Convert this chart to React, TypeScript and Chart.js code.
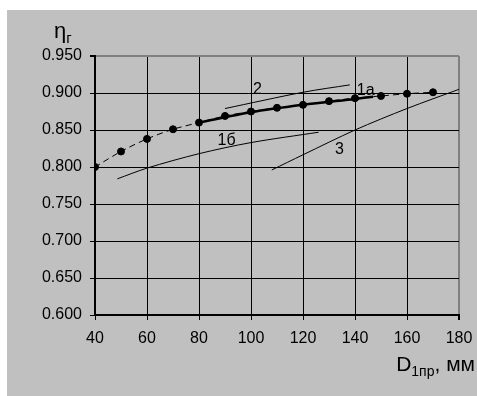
import React, { useEffect, useRef } from "react";
import { Chart, registerables } from "chart.js";

Chart.register(...registerables);

// Main curve (dashed with markers)
const mainX = [40, 50, 60, 70, 80, 90, 100, 110, 120, 130, 140, 150, 160, 170];
const mainY = [0.800, 0.821, 0.838, 0.851, 0.860, 0.869, 0.875, 0.880, 0.884, 0.889, 0.893, 0.896, 0.899, 0.901];

// Curve 1а (thick solid)
const c1aX = [80, 100, 120, 140, 147];
const c1aY = [0.860, 0.874, 0.884, 0.892, 0.895];

// Curve 2
const c2X = [90, 120, 138];
const c2Y = [0.879, 0.901, 0.911];

// Curve 1б
const c1bX = [48.6, 60, 80, 100, 126];
const c1bY = [0.784, 0.7985, 0.818, 0.833, 0.847];

// Curve 3
const c3X = [108, 120, 140, 160, 180];
const c3Y = [0.796, 0.8165, 0.850, 0.879, 0.905];

// Curve labels
const labelText = ["1а", "2", "1б", "3"];
const labelX = [144.1, 102.5, 90.6, 134.0];
const labelY = [0.9037, 0.9046, 0.836, 0.8233];

const xTicksMin = 40;
const xTicksMax = 180;
const xStep = 20;
const yMin = 0.6;
const yMax = 0.95;
const yStep = 0.05;

const FONT = "'Liberation Sans', Arial, sans-serif";

const pts = (xs: number[], ys: number[]) => xs.map((x, i) => ({ x, y: ys[i] }));

const overlayPlugin = {
  id: "overlay",
  afterDraw(chart: any) {
    const ctx = chart.ctx;
    const xs = chart.scales.x;
    const ys = chart.scales.y;
    const ca = chart.chartArea;
    ctx.save();
    ctx.fillStyle = "#000";
    // curve labels
    ctx.font = `16px ${FONT}`;
    ctx.textAlign = "center";
    ctx.textBaseline = "middle";
    labelText.forEach((t, i) => {
      ctx.fillText(t, xs.getPixelForValue(labelX[i]), ys.getPixelForValue(labelY[i]));
    });
    // y axis title: ηг
    ctx.textAlign = "left";
    ctx.textBaseline = "alphabetic";
    ctx.font = `22px ${FONT}`;
    const etaX = ca.left - 41;
    const etaY = ca.top - 18;
    ctx.fillText("η", etaX, etaY);
    const ew = ctx.measureText("η").width;
    ctx.font = `15px ${FONT}`;
    ctx.fillText("г", etaX + ew, etaY + 5);
    // x axis title: D1пр, мм (right aligned)
    const big = `21px ${FONT}`;
    const small = `14px ${FONT}`;
    const parts: [string, string, number][] = [
      ["D", big, 0],
      ["1пр", small, 5],
      [", мм", big, 0],
    ];
    let total = 0;
    parts.forEach(([t, f]) => {
      ctx.font = f;
      total += ctx.measureText(t).width;
    });
    let px = chart.width - 2 - total;
    const base = ca.bottom + 56;
    parts.forEach(([t, f, dy]) => {
      ctx.font = f;
      ctx.fillText(t, px, base + dy);
      px += ctx.measureText(t).width;
    });
    ctx.restore();
  },
};

const bgPlugin = {
  id: "bg",
  beforeDraw(chart: any) {
    const ctx = chart.ctx;
    ctx.save();
    ctx.fillStyle = "#c0c0c0";
    ctx.fillRect(0, 0, chart.width, chart.height);
    ctx.restore();
  },
};

export default function App() {
  const ref = useRef<HTMLCanvasElement | null>(null);
  useEffect(() => {
    if (!ref.current) return;
    const chart = new Chart(ref.current, {
      type: "line",
      data: {
        datasets: [
          {
            data: pts(c1aX, c1aY),
            borderColor: "#000",
            borderWidth: 2.5,
            pointRadius: 0,
            tension: 0.3,
          },
          {
            data: pts(mainX, mainY),
            borderColor: "#000",
            borderWidth: 1,
            borderDash: [6, 4],
            pointRadius: 3.5,
            pointBackgroundColor: "#000",
            pointBorderColor: "#000",
            tension: 0.3,
          },
          {
            data: pts(c2X, c2Y),
            borderColor: "#000",
            borderWidth: 1,
            pointRadius: 0,
            tension: 0.3,
          },
          {
            data: pts(c1bX, c1bY),
            borderColor: "#000",
            borderWidth: 1,
            pointRadius: 0,
            tension: 0.3,
          },
          {
            data: pts(c3X, c3Y),
            borderColor: "#000",
            borderWidth: 1,
            pointRadius: 0,
            tension: 0.3,
          },
        ],
      },
      options: {
        animation: false,
        responsive: false,
        devicePixelRatio: 1,
        layout: { padding: { top: 46, right: 18, left: 0, bottom: 0 } },
        plugins: { legend: { display: false }, tooltip: { enabled: false } },
        scales: {
          x: {
            type: "linear",
            min: xTicksMin,
            max: xTicksMax,
            afterFit: (s: any) => {
              s.height = 81;
              s.paddingLeft = 0;
              s.paddingRight = 0;
            },
            ticks: {
              stepSize: xStep,
              color: "#000",
              font: { family: FONT, size: 16 },
              padding: 9,
            },
            grid: {
              color: (c: any) => (c.tick && c.tick.value === xTicksMax ? "#808080" : "#000"),
              lineWidth: (c: any) => (c.tick && c.tick.value === xTicksMax ? 2 : 1),
              tickColor: "#000",
              tickLength: 5,
            },
            border: { color: "#000", width: 2 },
          },
          y: {
            type: "linear",
            min: yMin,
            max: yMax,
            afterFit: (s: any) => {
              s.width = 88;
              s.paddingTop = 0;
              s.paddingBottom = 0;
            },
            ticks: {
              stepSize: yStep,
              color: "#000",
              font: { family: FONT, size: 16 },
              padding: 8,
              callback: (v: any) => Number(v).toFixed(3),
            },
            grid: {
              color: (c: any) => (c.tick && Math.abs(c.tick.value - yMax) < 1e-6 ? "#808080" : "#000"),
              lineWidth: (c: any) => (c.tick && Math.abs(c.tick.value - yMax) < 1e-6 ? 2 : 1),
              tickColor: "#000",
              tickLength: 5,
            },
            border: { color: "#000", width: 2 },
          },
        },
      },
      plugins: [bgPlugin, overlayPlugin],
    } as any);
    return () => chart.destroy();
  }, []);
  return (
    <div style={{ position: "absolute", left: 7, top: 10, width: 470, height: 386 }}>
      <canvas ref={ref} width={470} height={386} style={{ width: 470, height: 386, display: "block" }} />
    </div>
  );
}
